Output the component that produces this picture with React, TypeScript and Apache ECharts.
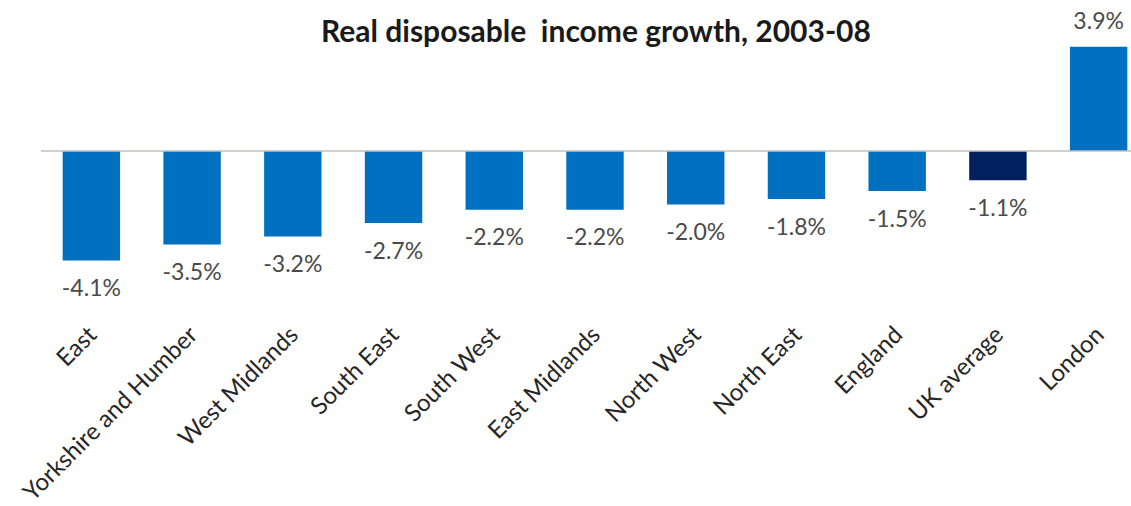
import React, { useEffect, useRef } from "react";
import * as echarts from "echarts";

const categories = [
  "East",
  "Yorkshire and Humber",
  "West Midlands",
  "South East",
  "South West",
  "East Midlands",
  "North West",
  "North East",
  "England",
  "UK average",
  "London",
];
const values = [-4.1, -3.5, -3.2, -2.7, -2.2, -2.2, -2.0, -1.8, -1.5, -1.1, 3.9];
const highlight = ["UK average"];
const titleText = "Real disposable  income growth, 2003-08";

export default function App() {
  const ref = useRef<HTMLDivElement>(null);
  useEffect(() => {
    document.body.style.margin = "0";
    document.body.style.overflow = "hidden";
    const chart = echarts.init(ref.current!, null, { renderer: "svg" });
    const font = "Lato, 'Open Sans', sans-serif";
    chart.setOption({
      animation: false,
      title: {
        text: titleText,
        left: 316,
        top: 10,
        textStyle: { fontFamily: font, fontSize: 30, fontWeight: "bold", color: "#1a1a1a" },
      },
      grid: { left: 41, right: 0, top: 44, height: 245, containLabel: false },
      xAxis: {
        type: "category",
        data: categories,
        axisLine: { show: false, onZero: false },
        axisTick: { show: false },
        axisLabel: {
          rotate: 45,
          interval: 0,
          margin: 45,
          fontFamily: font,
          fontSize: 24,
          color: "#262626",
        },
      },
      yAxis: {
        type: "value",
        min: -5,
        max: 4,
        show: false,
        splitLine: { show: false },
      },
      series: [
        {
          type: "bar",
          barWidth: "57%",
          data: values.map((v, i) => ({
            value: v,
            itemStyle: { color: highlight.includes(categories[i]) ? "#002060" : "#0070C0" },
            label: { position: v < 0 ? "bottom" : "top" },
          })),
          label: {
            show: true,
            distance: 15,
            fontFamily: font,
            fontSize: 23,
            color: "#4a4a4a",
            formatter: (p: any) => p.value.toFixed(1) + "%",
          },
          markLine: {
            silent: true,
            symbol: "none",
            label: { show: false },
            lineStyle: { color: "#c4bfb8", width: 1.5, type: "solid" },
            data: [{ yAxis: 0 }],
          },
        },
      ],
    });
    return () => chart.dispose();
  }, []);
  return <div ref={ref} style={{ width: 1149, height: 506, position: "absolute", left: 0, top: 0 }} />;
}
